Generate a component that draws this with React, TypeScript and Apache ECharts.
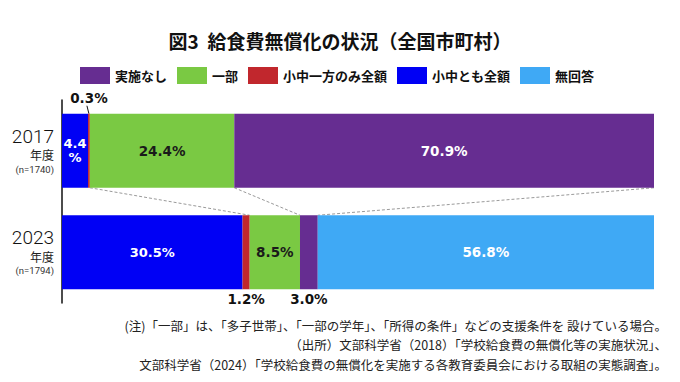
import React, { useEffect, useRef } from "react";
import * as echarts from "echarts";

const categories = ["2017", "2023"];
const sampleSizes = ["1740", "1794"];
const bothFull = [4.4, 30.5]; // 小中とも全額
const oneFull = [0.3, 1.2]; // 小中一方のみ全額
const partial = [24.4, 8.5]; // 一部
const none = [70.9, 3.0]; // 実施なし
const noAnswer = [0, 56.8]; // 無回答
const legendOrder = ["実施なし", "一部", "小中一方のみ全額", "小中とも全額", "無回答"];
const notes = [
  "(注)「一部」は、「多子世帯」、「一部の学年」、「所得の条件」などの支援条件を 設けている場合。",
  "（出所）文部科学省（2018）「学校給食費の無償化等の実施状況」、",
  "文部科学省（2024）「学校給食費の無償化を実施する各教育委員会における取組の実態調査」。",
];

const FONT = "'Noto Sans CJK JP', 'Noto Sans', sans-serif";
const NUMFONT = "'DejaVu Sans', sans-serif";
const BAR_W = 74;

export default function App() {
  const ref = useRef<HTMLDivElement>(null);
  useEffect(() => {
    document.body.style.margin = "0";
    if (!ref.current) return;
    const chart = echarts.init(ref.current, null, { renderer: "svg" });

    const cum = (i: number, k: number) => {
      const parts = [bothFull, oneFull, partial, none, noAnswer];
      let s = 0;
      for (let j = 0; j <= k; j++) s += parts[j][i];
      return s;
    };
    const connectors = [1, 2, 3].map((k) => [cum(0, k), cum(1, k), 0]);
    const leader = [[bothFull[0] + oneFull[0] / 2, 0]];

    const numLabel = (color: string) => ({
      show: true,
      color,
      fontFamily: NUMFONT,
      fontWeight: "bold",
      fontSize: 13.5,
      formatter: (p: any) => `${Number(p.value).toFixed(1)}%`,
    });

    const option: any = {
      animation: false,
      backgroundColor: "#ffffff",
      title: {
        text: "図3  給食費無償化の状況（全国市町村）",
        left: "center",
        top: 26,
        textStyle: { fontFamily: FONT, fontSize: 19, fontWeight: "bold", color: "#111" },
      },
      legend: {
        data: legendOrder,
        left: 75,
        top: 62,
        icon: "rect",
        itemWidth: 30,
        itemHeight: 17,
        itemGap: 10,
        textStyle: { fontFamily: FONT, fontSize: 13, fontWeight: "bold", color: "#111" },
      },
      grid: { left: 62, right: 26, top: 100, bottom: 79 },
      xAxis: { type: "value", min: 0, max: 100, show: false },
      yAxis: {
        type: "category",
        data: categories,
        inverse: true,
        axisLine: { show: true, lineStyle: { color: "#111", width: 1.5 } },
        axisTick: { show: false },
        axisLabel: {
          margin: 8,
          align: "right",
          formatter: (v: string, i: number) => `{y|${v}}\n{n|年度}\n{s|(n=${sampleSizes[i]})}`,
          rich: {
            y: { fontFamily: "Roboto, 'Noto Sans', sans-serif", fontWeight: 300, fontSize: 19, color: "#111", lineHeight: 21, align: "right" },
            n: { fontFamily: FONT, fontSize: 12, color: "#222", lineHeight: 16, align: "right" },
            s: { fontFamily: "Roboto, sans-serif", fontSize: 9.5, color: "#333", lineHeight: 13, align: "right" },
          },
        },
      },
      series: [
        {
          name: "小中とも全額",
          type: "bar",
          stack: "t",
          barWidth: BAR_W,
          itemStyle: { color: "#0000f5" },
          data: bothFull.map((v, i) => ({
            value: v,
            label: {
              ...numLabel("#ffffff"),
              position: "inside",
              fontSize: 13,
              lineHeight: 14,
              formatter: i === 0 ? (p: any) => `${Number(p.value).toFixed(1)}\n%` : (p: any) => `${Number(p.value).toFixed(1)}%`,
            },
          })),
        },
        {
          name: "小中一方のみ全額",
          type: "bar",
          stack: "t",
          barWidth: BAR_W,
          itemStyle: { color: "#c1272d" },
          data: oneFull.map((v, i) => ({
            value: v,
            label: { ...numLabel("#111"), position: i === 0 ? "top" : "bottom", distance: i === 0 ? 9 : 3 },
          })),
        },
        {
          name: "一部",
          type: "bar",
          stack: "t",
          barWidth: BAR_W,
          itemStyle: { color: "#7ac943" },
          data: partial.map((v) => ({ value: v, label: { ...numLabel("#1a1a1a"), position: "inside" } })),
        },
        {
          name: "実施なし",
          type: "bar",
          stack: "t",
          barWidth: BAR_W,
          itemStyle: { color: "#662d91" },
          data: none.map((v, i) => ({
            value: v,
            label: i === 0 ? { ...numLabel("#ffffff"), position: "inside" } : { ...numLabel("#111"), position: "bottom", distance: 3 },
          })),
        },
        {
          name: "無回答",
          type: "bar",
          stack: "t",
          barWidth: BAR_W,
          itemStyle: { color: "#3fa9f5" },
          data: noAnswer.map((v) => ({ value: v, label: { ...numLabel("#ffffff"), position: "inside", show: v > 0 } })),
        },
        {
          type: "custom",
          coordinateSystem: "cartesian2d",
          encode: { x: [0, 1], y: 2 },
          silent: true,
          data: connectors,
          renderItem: (params: any, api: any) => {
            const a = api.coord([api.value(0), 0]);
            const b = api.coord([api.value(1), 1]);
            return {
              type: "line",
              shape: { x1: a[0], y1: a[1] + BAR_W / 2, x2: b[0], y2: b[1] - BAR_W / 2 },
              style: { stroke: "#9a9a9a", lineWidth: 1, lineDash: [3, 2] },
            };
          },
        },
        {
          type: "custom",
          coordinateSystem: "cartesian2d",
          encode: { x: 0, y: 1 },
          silent: true,
          data: leader,
          renderItem: (params: any, api: any) => {
            const a = api.coord([api.value(0), api.value(1)]);
            const top = a[1] - BAR_W / 2;
            return {
              type: "line",
              shape: { x1: a[0], y1: top, x2: a[0] - 2, y2: top - 8 },
              style: { stroke: "#111", lineWidth: 1 },
            };
          },
        },
      ],
      graphic: notes.map((t, i) => ({
        type: "text",
        right: 13,
        top: 319 + i * 19.5,
        style: { text: t, fontFamily: FONT, fontSize: 12.5, fill: "#222" },
      })),
    };
    chart.setOption(option);
    return () => chart.dispose();
  }, []);
  return <div ref={ref} style={{ width: 680, height: 382 }} />;
}
